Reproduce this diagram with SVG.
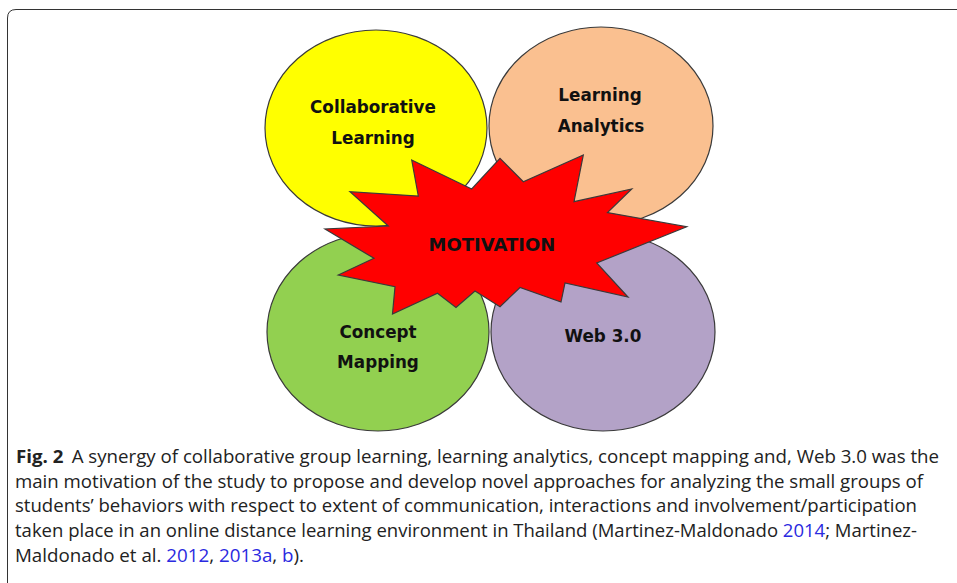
<svg xmlns="http://www.w3.org/2000/svg" width="957" height="583" viewBox="0 0 957 583">
<style>
.c{stroke:#3a3a3a;stroke-width:1.2}
.lbl{font-family:"DejaVu Sans",Verdana,sans-serif;font-weight:bold;font-size:16.8px;fill:#111;text-anchor:middle}
.cap{font-family:"Open Sans","Liberation Sans",sans-serif;font-size:18px;fill:#222}
.lnk{fill:#2a2ae0}
</style>
<rect width="957" height="583" fill="#fff"/>
<path d="M7.5 583 L7.5 18 Q7.5 9.5 16 9.5 L957 9.5" fill="none" stroke="#333" stroke-width="1"/>
<g id="collaborative-learning">
<ellipse class="c" cx="376" cy="128" rx="111" ry="98" fill="#FFFF00"/>
<text class="lbl" x="373" y="113">Collaborative</text>
<text class="lbl" x="373" y="144">Learning</text>
</g>
<g id="learning-analytics">
<ellipse class="c" cx="601" cy="126" rx="112" ry="99" fill="#FAC090"/>
<text class="lbl" x="600" y="101">Learning</text>
<text class="lbl" x="601" y="132">Analytics</text>
</g>
<g id="concept-mapping">
<ellipse class="c" cx="378" cy="332" rx="111" ry="99" fill="#92D050"/>
<text class="lbl" x="378" y="338">Concept</text>
<text class="lbl" x="378" y="368">Mapping</text>
</g>
<g id="web30">
<ellipse class="c" cx="603" cy="332" rx="112" ry="99" fill="#B3A2C7"/>
<text class="lbl" x="603" y="342">Web 3.0</text>
</g>
<g id="motivation">
<polygon class="c" fill="#FF0000" points="411.7,160 418.3,196 350,191.7 388.3,226 325,229 374,258.3 338.3,275 395,286.7 392.5,314 437.5,293.3 456,307.5 475,291 500,306.7 520,287.5 561,302 565,283 628,297 596.7,263 686.7,226.7 607.5,212.5 631.7,189 574,201.7 583.3,155 523.3,181.7 500,158.3 471.7,189"/>
<text class="lbl" x="492" y="251" style="font-size:18px">MOTIVATION</text>
</g>
<g id="caption">
<text class="cap" x="16" y="463" textLength="923" lengthAdjust="spacingAndGlyphs"><tspan font-weight="bold">Fig. 2</tspan><tspan dx="8">A synergy of collaborative group learning, learning analytics, concept mapping and, Web 3.0 was the</tspan></text>
<text class="cap" x="15" y="488" textLength="908" lengthAdjust="spacingAndGlyphs">main motivation of the study to propose and develop novel approaches for analyzing the small groups of</text>
<text class="cap" x="15" y="512" textLength="902" lengthAdjust="spacingAndGlyphs">students’ behaviors with respect to extent of communication, interactions and involvement/participation</text>
<text class="cap" x="15" y="537" textLength="902" lengthAdjust="spacingAndGlyphs">taken place in an online distance learning environment in Thailand (Martinez-Maldonado <tspan class="lnk">2014</tspan>; Martinez-</text>
<text class="cap" x="15" y="562" textLength="289" lengthAdjust="spacingAndGlyphs">Maldonado et al. <tspan class="lnk">2012</tspan>, <tspan class="lnk">2013a</tspan>, <tspan class="lnk">b</tspan>).</text>
</g>
</svg>
